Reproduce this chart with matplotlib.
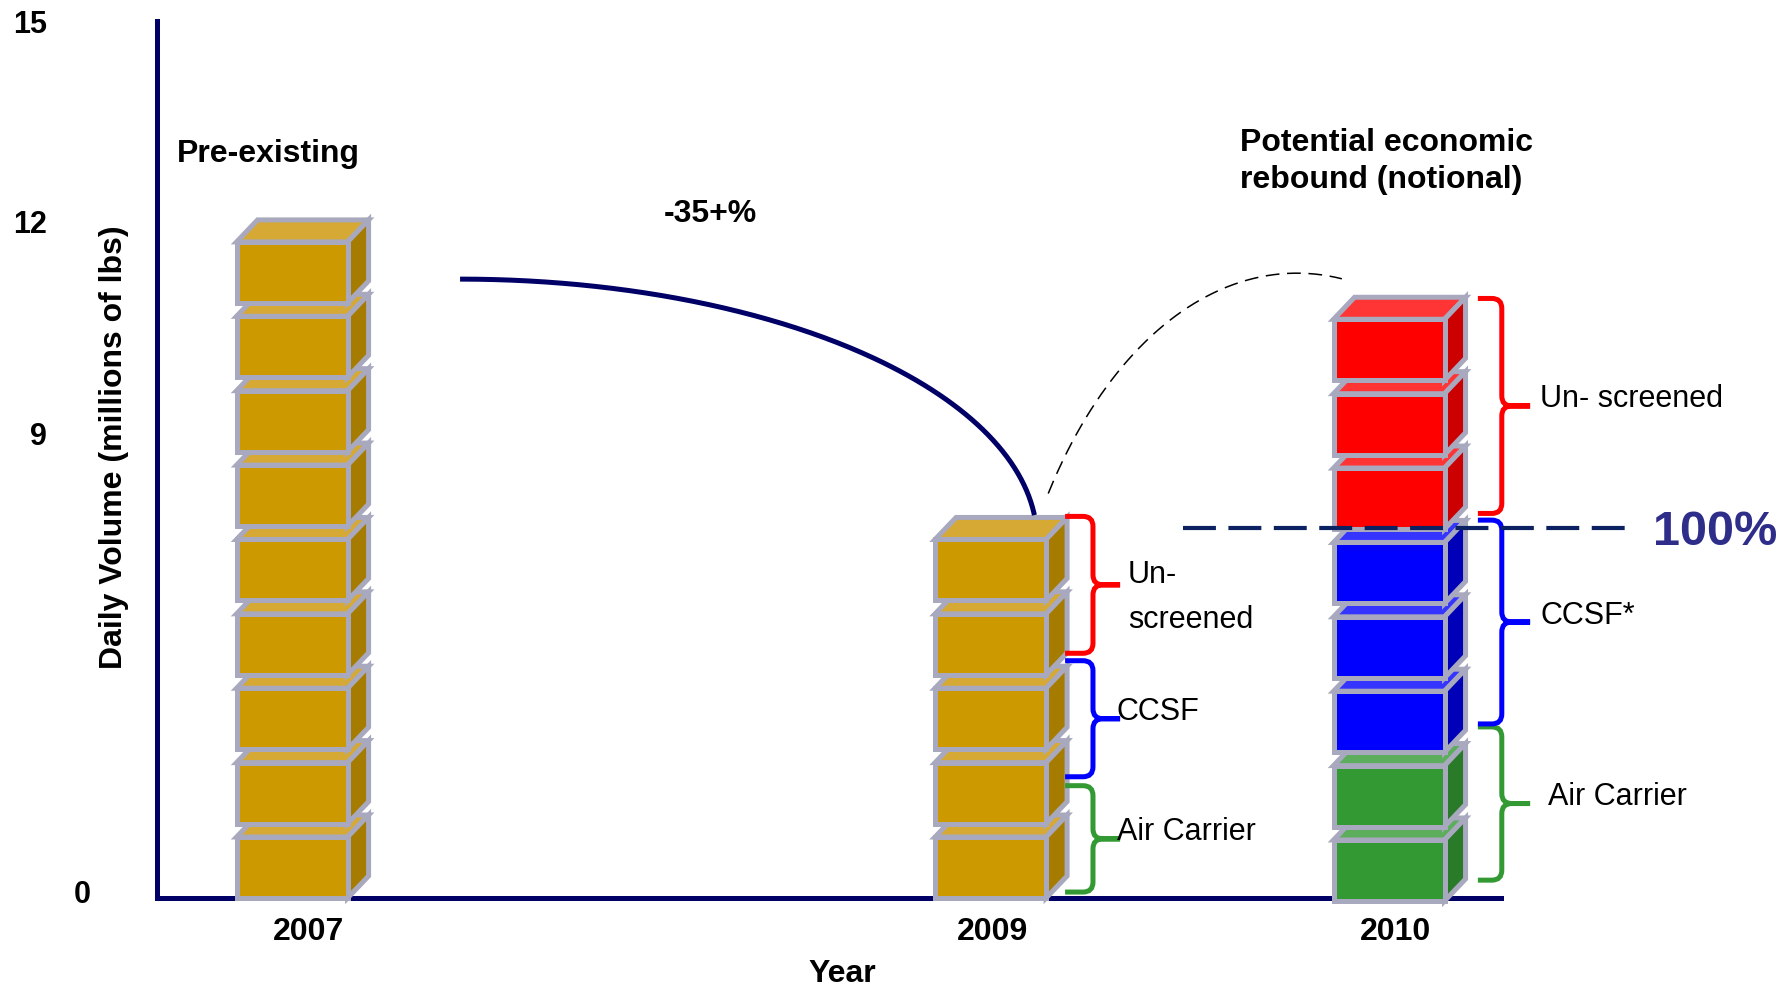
import matplotlib

matplotlib.use("Agg")
import matplotlib.pyplot as plt  # noqa: E402
import numpy as np  # noqa: E402
from matplotlib import font_manager  # noqa: E402
from matplotlib.patches import Polygon, PathPatch  # noqa: E402
from matplotlib.path import Path  # noqa: E402

# ---- data -----------------------------------------------------------------
years = ["2007", "2009", "2010"]
pre_blocks = [9, 5, 0]          # undifferentiated (gold) blocks
air_blocks = [0, 0, 2]
ccsf_blocks = [0, 0, 3]
unscreened_blocks = [0, 0, 3]

labels_2009 = ["Air Carrier", "CCSF", "Un-\nscreened"]
lo_2009 = [0.08, 1.63, 3.29]
hi_2009 = [1.51, 3.19, 5.13]

labels_2010 = ["Air Carrier", "CCSF*", "Un- screened"]
lo_2010 = [0.24, 2.34, 5.17]
hi_2010 = [2.30, 5.08, 8.06]

full_level = 4.97               # the "100%" reference line
ytick_labels = ["0", "9", "12", "15"]
ytick_pos = [-0.07, 6.09, 8.94, 11.63]

# ---- layout / style -------------------------------------------------------
X_POS = [0.0, 1.753, 2.753]
XTICK_DX = [0.040, 0.006, 0.015]
BASE = [0.0, 0.0, -0.04]
W, H, DX, DY = 0.2786, 0.82, 0.0527, 0.296
EDGE = "#A8A8BE"
NAVY = "#000066"
FACES = {
    "pre": ("#CC9900", "#D6A935", "#A67C00"),
    "air": ("#339933", "#5CAD5C", "#297A29"),
    "ccsf": ("#0000FF", "#3535FF", "#0000B8"),
    "unscreened": ("#FF0000", "#FF3535", "#CC0000"),
}
BRACE_COLORS = ["#339933", "#0000FF", "#FF0000"]

names = {f.name for f in font_manager.fontManager.ttflist}
if "Liberation Sans Narrow" in names:
    NARROW, NARROW_SIZE = "Liberation Sans Narrow", 25
else:
    NARROW, NARROW_SIZE = "Liberation Sans", 22

plt.rcParams["font.family"] = ["Liberation Sans", "DejaVu Sans"]


def draw_block(ax, x0, y0, kind):
    front, top, side = FACES[kind]
    kw = dict(edgecolor=EDGE, linewidth=3.6, joinstyle="miter",
              clip_on=False, zorder=3)
    ax.add_patch(Polygon([(x0, y0 + H), (x0 + W, y0 + H),
                          (x0 + W + DX, y0 + H + DY), (x0 + DX, y0 + H + DY)],
                         facecolor=top, **kw))
    ax.add_patch(Polygon([(x0 + W, y0), (x0 + W + DX, y0 + DY),
                          (x0 + W + DX, y0 + H + DY), (x0 + W, y0 + H)],
                         facecolor=side, **kw))
    ax.add_patch(Polygon([(x0, y0), (x0 + W, y0), (x0 + W, y0 + H),
                          (x0, y0 + H)], facecolor=front, **kw))


def draw_brace(ax, x_end, x_v, x_tip, y_lo, y_hi, color):
    rx, ry = 0.025, 0.134
    ym = (y_lo + y_hi) / 2
    verts, codes = [], []
    for y_end, s in ((y_hi, -1), (y_lo, 1)):
        verts += [(x_end, y_end), (x_v - rx, y_end), (x_v, y_end),
                  (x_v, y_end + s * ry), (x_v, ym - s * ry), (x_v, ym),
                  (x_v + rx, ym), (x_tip, ym)]
        codes += [Path.MOVETO, Path.LINETO, Path.CURVE3, Path.CURVE3,
                  Path.LINETO, Path.CURVE3, Path.CURVE3, Path.LINETO]
    ax.add_patch(PathPatch(Path(verts, codes), facecolor="none",
                           edgecolor=color, linewidth=3.6, capstyle="butt",
                           clip_on=False, zorder=4))


fig = plt.figure(figsize=(17.83, 9.85), dpi=100)
ax = fig.add_axes([157 / 1783, 87 / 985, 1344 / 1783, 877 / 985])
ax.set_xlim(-0.339, 3.034)
ax.set_ylim(0, 11.79)

for side in ("top", "right"):
    ax.spines[side].set_visible(False)
for side in ("left", "bottom"):
    ax.spines[side].set_color(NAVY)
    ax.spines[side].set_linewidth(3.6)

# stacks
for i in range(len(years)):
    kinds = (["pre"] * pre_blocks[i] + ["air"] * air_blocks[i]
             + ["ccsf"] * ccsf_blocks[i] + ["unscreened"] * unscreened_blocks[i])
    for j, kind in enumerate(kinds):
        draw_block(ax, X_POS[i] - W / 2, BASE[i] + j, kind)

# braces + labels
brace_sets = [
    (X_POS[1], (0.187, 0.257, 0.325), [0.317, 0.317, 0.345],
     labels_2009, lo_2009, hi_2009),
    (X_POS[2], (0.223, 0.283, 0.354), [0.399, 0.379, 0.379],
     labels_2010, lo_2010, hi_2010),
]
for xc, (e, v, t), lab_dx, labels, los, his in brace_sets:
    for k, (lab, lo, hi) in enumerate(zip(labels, los, his)):
        draw_brace(ax, xc + e, xc + v, xc + t, lo, hi, BRACE_COLORS[k])
        mid = (lo + hi) / 2
        lines = lab.split("\n")
        y0 = mid + 0.03 if len(lines) > 1 else mid - 0.02
        for n, line in enumerate(lines):
            ax.text(xc + lab_dx[k], y0 - n * 0.605, line, fontsize=NARROW_SIZE,
                    family=[NARROW, "DejaVu Sans"], ha="left", va="baseline",
                    clip_on=False, zorder=6)

# decline arc 2007 -> 2009
t = np.linspace(0, 1.475, 200)
ax.plot(0.4216 + 1.448 * np.sin(t), 4.812 + 3.508 * np.cos(t),
        color=NAVY, lw=3.6, solid_capstyle="butt", zorder=4)

# notional rebound arc
th = np.radians(np.linspace(146, 81.4, 200))
ax.plot(2.522 + 0.753 * np.cos(th), 1.680 + 6.720 * np.sin(th),
        color="black", lw=1.1, dashes=(9, 5), zorder=4)

# 100% line
ax.plot([2.236, 3.363], [full_level, full_level], color="#0B2161", lw=3.0,
        dashes=(7.9, 3.0), clip_on=False, zorder=5)
ax.text(3.415, full_level - 0.225, "100%", fontsize=35, fontweight="bold",
        color="#2E2E8A", ha="left", va="baseline", clip_on=False)

# annotations
ax.text(-0.289, 9.892, "Pre-existing", fontsize=23, fontweight="bold",
        ha="left", va="baseline")
ax.text(1.049, 9.086, "-35+%", fontsize=23, fontweight="bold",
        ha="center", va="baseline")
ax.text(2.379, 10.04, "Potential economic", fontsize=23, fontweight="bold",
        ha="left", va="baseline")
ax.text(2.379, 9.543, "rebound (notional)", fontsize=23, fontweight="bold",
        ha="left", va="baseline")

# y tick labels (hand-placed as on the slide)
tick_x = [-0.527, -0.615, -0.615, -0.615]
tick_ha = ["center", "right", "right", "right"]
ax.set_yticks([])
for lab, y, x, ha in zip(ytick_labels, ytick_pos, tick_x, tick_ha):
    ax.text(x, y, lab, fontsize=22, fontweight="bold", ha=ha, va="baseline",
            clip_on=False)

ax.set_ylabel("Daily Volume (millions of lbs)", fontsize=23,
              fontweight="bold", va="center")
ax.yaxis.set_label_coords(-0.032, 0.514)

ax.set_xticks([p + d for p, d in zip(X_POS, XTICK_DX)], years)
ax.tick_params(axis="x", length=0, pad=14, labelsize=23)
for lbl in ax.get_xticklabels():
    lbl.set_fontweight("bold")
ax.set_xlabel("Year", fontsize=23, fontweight="bold")
ax.xaxis.set_label_coords(0.5097, -0.069)

fig.savefig("out.png", dpi=100, facecolor="white")
plt.close(fig)
